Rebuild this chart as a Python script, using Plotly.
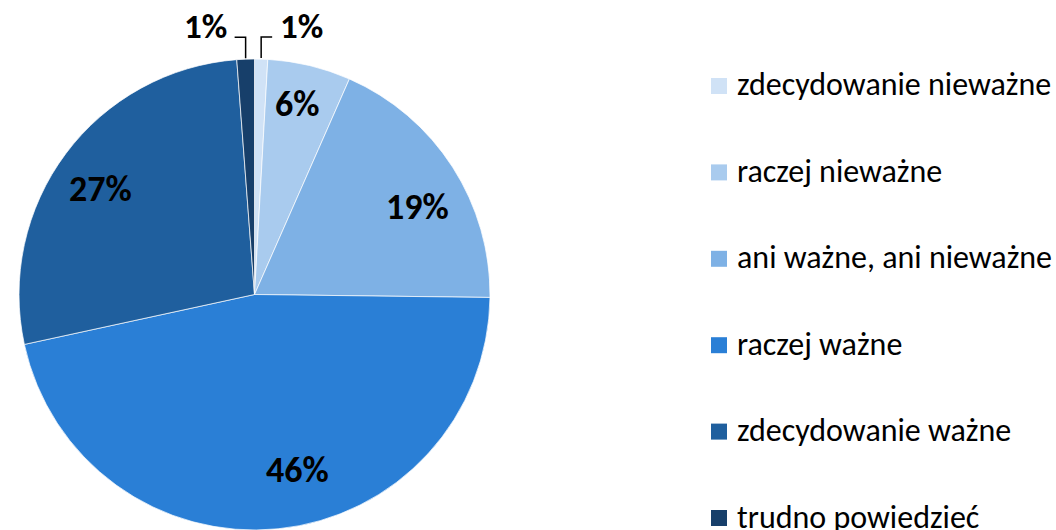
import math
import plotly.graph_objects as go

categories = ["zdecydowanie nieważne", "raczej nieważne", "ani ważne, ani nieważne",
              "raczej ważne", "zdecydowanie ważne", "trudno powiedzieć"]
values = [0.9, 5.7, 18.6, 46.4, 27.2, 1.2]
colors = ["#d0e2f6", "#a9cbee", "#7eb1e5", "#2a7fd6", "#1f5f9e", "#173f6a"]
outside = [True, False, False, False, False, True]
# small pixel nudges of the inside labels (style only)
label_nudge = [(0, 0), (0, -10), (7, 13), (24, -10), (-5, 6), (0, 0)]

W, H = 1056, 530
cx, cy, r = 254.5, 294.5, 235.5
FONT = "Calibri, Carlito, Lato, sans-serif"

fig = go.Figure(go.Pie(
    labels=categories, values=values, sort=False, direction="clockwise", rotation=0,
    marker=dict(colors=colors, line=dict(color="rgba(255,255,255,0.7)", width=1)),
    textinfo="none", hoverinfo="skip", showlegend=False,
    domain=dict(x=[(cx - r) / W, (cx + r) / W], y=[1 - (cy + r) / H, 1 - (cy - r) / H]),
))

shapes, annotations = [], []
total = sum(values)
cum = 0.0
for i, v in enumerate(values):
    mid = (cum + v / 2) / total
    cum += v
    th = 2 * math.pi * mid
    s, c = math.sin(th), math.cos(th)
    text = f"{round(v / total * 100)}%"
    if not outside[i]:
        f = 0.79
        px = cx + f * r * s + label_nudge[i][0]
        py = cy - f * r * c + label_nudge[i][1]
        annotations.append(dict(x=px / W, y=1 - py / H, xref="paper", yref="paper",
                                xanchor="center", yanchor="middle",
                                text=f"<b>{text}</b>", showarrow=False,
                                font=dict(family=FONT, size=36, color="black")))
    else:
        ex, ey = cx + r * s, cy - r * c
        side = 1 if s > 0 else -1
        ty = ey - 22
        hx = ex + side * 11
        shapes.append(dict(type="path", xref="paper", yref="paper",
                           path=f"M {ex/W},{1-(ey-1)/H} L {ex/W},{1-ty/H} L {hx/W},{1-ty/H}",
                           line=dict(color="black", width=1.5)))
        annotations.append(dict(x=(hx + side * 6) / W, y=1 - (ty - 11) / H,
                                xref="paper", yref="paper",
                                xanchor="left" if side > 0 else "right", yanchor="middle",
                                text=f"<b>{text}</b>", showarrow=False,
                                font=dict(family=FONT, size=35, color="black")))

# legend
y0, dy = 86, 86.4
for i, name in enumerate(categories):
    yc = y0 + i * dy
    shapes.append(dict(type="rect", xref="paper", yref="paper",
                       x0=711 / W, x1=727 / W, y0=1 - (yc + 8) / H, y1=1 - (yc - 8) / H,
                       fillcolor=colors[i], line=dict(width=0)))
    annotations.append(dict(x=735 / W, y=1 - (yc - 1) / H, xref="paper", yref="paper",
                            xanchor="left", yanchor="middle", text=name, showarrow=False,
                            font=dict(family=FONT, size=32, color="black")))

fig.update_layout(width=W, height=H, margin=dict(l=0, r=0, t=0, b=0),
                  paper_bgcolor="white", plot_bgcolor="white",
                  shapes=shapes, annotations=annotations)
fig.write_html("out.html", config={"displayModeBar": False},
               post_script="document.body.style.margin='0';document.body.style.overflow='hidden';")
